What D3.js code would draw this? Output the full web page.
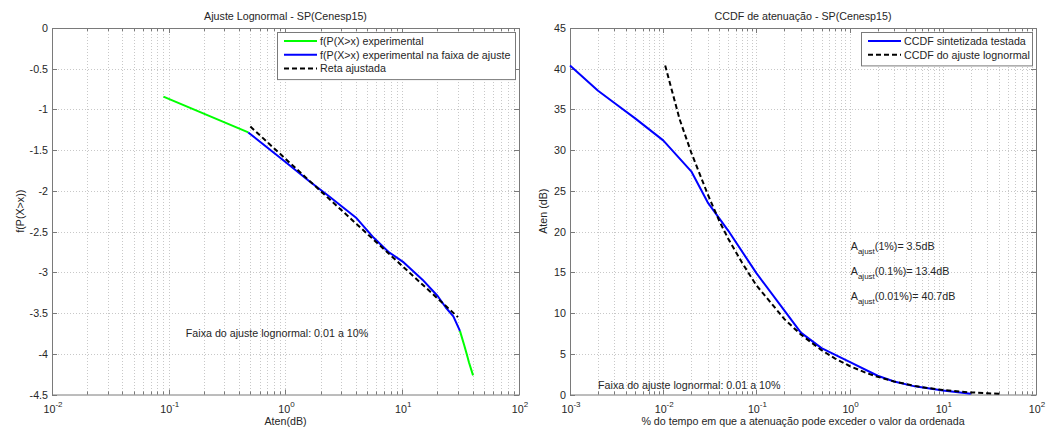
<!DOCTYPE html>
<html><head><meta charset="utf-8">
<script src="https://cdn.jsdelivr.net/npm/d3@7"></script>
<style>body{margin:0;background:#fff}svg{display:block;font-family:"Liberation Sans",Arial,sans-serif}</style>
</head><body>
<svg id="c" width="1051" height="432"></svg>
<script>
// ---- data ----
// exceedance percentages (% of time)
const pct = [0.001, 0.002, 0.003, 0.005, 0.01, 0.02, 0.03, 0.05, 0.1, 0.2, 0.3, 0.5, 1, 2, 3, 5, 10, 20];
// synthesized CCDF attenuation (dB)
const atenDB = [40.4, 37.3, 35.8, 33.9, 31.2, 27.4, 23.6, 20.1, 14.9, 10.3, 7.6, 5.7, 4.0, 2.3, 1.6, 1.0, 0.48, 0.09];
// f(P(X>x)) values for each percentage
const fP = [-4.265, -4.107, -4.013, -3.891, -3.719, -3.540, -3.432, -3.291, -3.090, -2.878, -2.748, -2.576, -2.326, -2.054, -1.881, -1.645, -1.282, -0.842];
// fitted straight line on the left plot
const fitLineX = [0.5, 30];
const fitLineY = [-1.21, -3.55];
// fitted lognormal CCDF on the right plot
const fitPct = [0.0105, 0.015, 0.02, 0.03, 0.04, 0.05, 0.07, 0.1, 0.2, 0.3, 0.5, 0.7, 1, 1.5, 2, 3, 5, 7, 10, 15, 20, 30, 41];
const fitAten = [40.4, 33.8, 29.7, 24.6, 21.3, 19.1, 16.2, 13.4, 9.25, 7.36, 5.44, 4.41, 3.5, 2.66, 2.17, 1.6, 1.06, 0.785, 0.56, 0.36, 0.26, 0.15, 0.09];
// ticks
const leftXExp = [-2, -1, 0, 1, 2];
const leftYTicks = [0, -0.5, -1, -1.5, -2, -2.5, -3, -3.5, -4, -4.5];
const rightXExp = [-3, -2, -1, 0, 1, 2];
const rightYTicks = [0, 5, 10, 15, 20, 25, 30, 35, 40, 45];

const svg = d3.select("#c");
const GRID = "#c8c8c8", AX = "#7a7a7a", TXT = "#262626", FS = 10.7;

function panel(cfg) {
  const g = svg.append("g");
  const x = d3.scaleLog().domain(cfg.xd).range([cfg.x0, cfg.x1]);
  const y = d3.scaleLinear().domain(cfg.yd).range([cfg.y1, cfg.y0]);
  const xs = [];
  for (let e = cfg.xExp[0]; e < cfg.xExp[cfg.xExp.length - 1]; e++)
    for (let m = 1; m < 10; m++) xs.push(m * Math.pow(10, e));
  xs.push(Math.pow(10, cfg.xExp[cfg.xExp.length - 1]));
  g.selectAll(".gx").data(xs.filter((v, i) => i > 0 && i < xs.length - 1)).join("line")
    .attr("x1", d => Math.round(x(d)) + 0.5).attr("x2", d => Math.round(x(d)) + 0.5)
    .attr("y1", cfg.y0).attr("y2", cfg.y1)
    .attr("stroke", GRID).attr("stroke-dasharray", "1,2");
  g.selectAll(".gy").data(cfg.yTicks.filter(v => v !== cfg.yd[0] && v !== cfg.yd[1])).join("line")
    .attr("x1", cfg.x0).attr("x2", cfg.x1)
    .attr("y1", d => Math.round(y(d)) + 0.5).attr("y2", d => Math.round(y(d)) + 0.5)
    .attr("stroke", GRID).attr("stroke-dasharray", "1,2");
  xs.forEach(v => {
    const major = Number.isInteger(Math.log10(v));
    const L = major ? 5 : 3;
    const px = Math.round(x(v)) + 0.5;
    g.append("line").attr("x1", px).attr("x2", px).attr("y1", cfg.y1).attr("y2", cfg.y1 - L).attr("stroke", AX);
    g.append("line").attr("x1", px).attr("x2", px).attr("y1", cfg.y0).attr("y2", cfg.y0 + L).attr("stroke", AX);
  });
  cfg.yTicks.forEach(v => {
    const py = Math.round(y(v)) + 0.5;
    g.append("line").attr("x1", cfg.x0).attr("x2", cfg.x0 + 5).attr("y1", py).attr("y2", py).attr("stroke", AX);
    g.append("line").attr("x1", cfg.x1).attr("x2", cfg.x1 - 5).attr("y1", py).attr("y2", py).attr("stroke", AX);
    g.append("text").attr("x", cfg.x0 - 4).attr("y", y(v) + 4).attr("text-anchor", "end")
      .attr("font-size", FS).attr("fill", TXT).text(v);
  });
  cfg.xExp.forEach(e => {
    const t = g.append("text").attr("x", x(Math.pow(10, e)) + 1).attr("y", cfg.y1 + 18)
      .attr("text-anchor", "middle").attr("font-size", FS).attr("fill", TXT);
    t.append("tspan").text("10");
    t.append("tspan").attr("dy", -6).attr("font-size", 8).text(e);
  });
  g.append("rect").attr("x", cfg.x0 + 0.5).attr("y", cfg.y0 + 0.5)
    .attr("width", cfg.x1 - cfg.x0).attr("height", cfg.y1 - cfg.y0)
    .attr("fill", "none").attr("stroke", AX);
  svg.append("text").attr("x", (cfg.x0 + cfg.x1) / 2).attr("y", 20).attr("text-anchor", "middle")
    .attr("font-size", FS).attr("fill", TXT).text(cfg.title);
  svg.append("text").attr("x", (cfg.x0 + cfg.x1) / 2).attr("y", 425).attr("text-anchor", "middle")
    .attr("font-size", FS).attr("fill", TXT).text(cfg.xlabel);
  svg.append("text").attr("transform", `translate(${cfg.ylx},${(cfg.y0 + cfg.y1) / 2}) rotate(-90)`)
    .attr("text-anchor", "middle").attr("font-size", FS).attr("fill", TXT).text(cfg.ylabel);
  return {g, x, y};
}

function drawLine(p, xs, ys, color, dash) {
  const pts = xs.map((v, i) => [v, ys[i]]);
  const line = d3.line().x(d => p.x(d[0])).y(d => p.y(d[1]));
  p.g.append("path").attr("d", line(pts)).attr("fill", "none").attr("stroke", color)
    .attr("stroke-width", 2).attr("stroke-dasharray", dash || null).attr("stroke-linejoin", "round");
}

function legend(p, x0, x1, y0, items) {
  const rowH = 13.7;
  const h = items.length * rowH + 6;
  p.g.append("rect").attr("x", x0 + 0.5).attr("y", y0 + 0.5).attr("width", x1 - x0).attr("height", h)
    .attr("fill", "#fff").attr("stroke", AX);
  items.forEach((it, i) => {
    const cy = y0 + 9 + i * rowH;
    p.g.append("line").attr("x1", x0 + 7).attr("x2", x0 + 40).attr("y1", cy).attr("y2", cy)
      .attr("stroke", it.color).attr("stroke-width", 2).attr("stroke-dasharray", it.dash || null);
    p.g.append("text").attr("x", x0 + 43).attr("y", cy + 4).attr("font-size", FS).attr("fill", TXT).text(it.label);
  });
}

// ---- left panel ----
const L = panel({x0: 52, x1: 519, y0: 28, y1: 394.5, xd: [0.01, 100], yd: [-4.5, 0],
  xExp: leftXExp, yTicks: leftYTicks, title: "Ajuste Lognormal - SP(Cenesp15)",
  xlabel: "Aten(dB)", ylabel: "f(P(X>x))", ylx: 24});
const idx = pct.map((v, i) => i);
const lowIdx = idx.filter(i => pct[i] <= 0.01);
const midIdx = idx.filter(i => pct[i] >= 0.01 && pct[i] <= 10);
const highIdx = idx.filter(i => pct[i] >= 10);
drawLine(L, lowIdx.map(i => atenDB[i]), lowIdx.map(i => fP[i]), "#00ff00");
drawLine(L, highIdx.map(i => atenDB[i]), highIdx.map(i => fP[i]), "#00ff00");
drawLine(L, midIdx.map(i => atenDB[i]), midIdx.map(i => fP[i]), "#0000ff");
drawLine(L, fitLineX, fitLineY, "#000", "5,3");
L.g.append("text").attr("x", L.x(0.14)).attr("y", L.y(-3.75) + 4).attr("font-size", FS).attr("fill", TXT)
  .text("Faixa do ajuste lognormal: 0.01 a 10%");
legend(L, 277, 515, 32, [
  {color: "#00ff00", label: "f(P(X>x) experimental"},
  {color: "#0000ff", label: "f(P(X>x) experimental na faixa de ajuste"},
  {color: "#000", dash: "5,3", label: "Reta ajustada"}]);

// ---- right panel ----
const R = panel({x0: 570, x1: 1036, y0: 28, y1: 394.5, xd: [0.001, 100], yd: [0, 45],
  xExp: rightXExp, yTicks: rightYTicks, title: "CCDF de atenuação - SP(Cenesp15)",
  xlabel: "% do tempo em que a atenuação pode exceder o valor da ordenada", ylabel: "Aten (dB)", ylx: 547});
drawLine(R, pct, atenDB, "#0000ff");
drawLine(R, fitPct, fitAten, "#000", "5,3");
R.g.append("text").attr("x", R.x(0.002)).attr("y", R.y(1.2) + 4).attr("font-size", FS).attr("fill", TXT)
  .text("Faixa do ajuste lognormal: 0.01 a 10%");
[["(1%)= 3.5dB", 18.2], ["(0.1%)= 13.4dB", 15.2], ["(0.01%)= 40.7dB", 12.1]].forEach(([s, yy]) => {
  const t = R.g.append("text").attr("x", R.x(1.03)).attr("y", R.y(yy) + 4).attr("font-size", FS).attr("fill", TXT);
  t.append("tspan").text("A");
  t.append("tspan").attr("dy", 4).attr("font-size", 8).text("ajust");
  t.append("tspan").attr("dy", -4).text(s);
});
legend(R, 861, 1032, 32, [
  {color: "#0000ff", label: "CCDF sintetizada testada"},
  {color: "#000", dash: "5,3", label: "CCDF do ajuste lognormal"}]);
</script>
</body></html>
